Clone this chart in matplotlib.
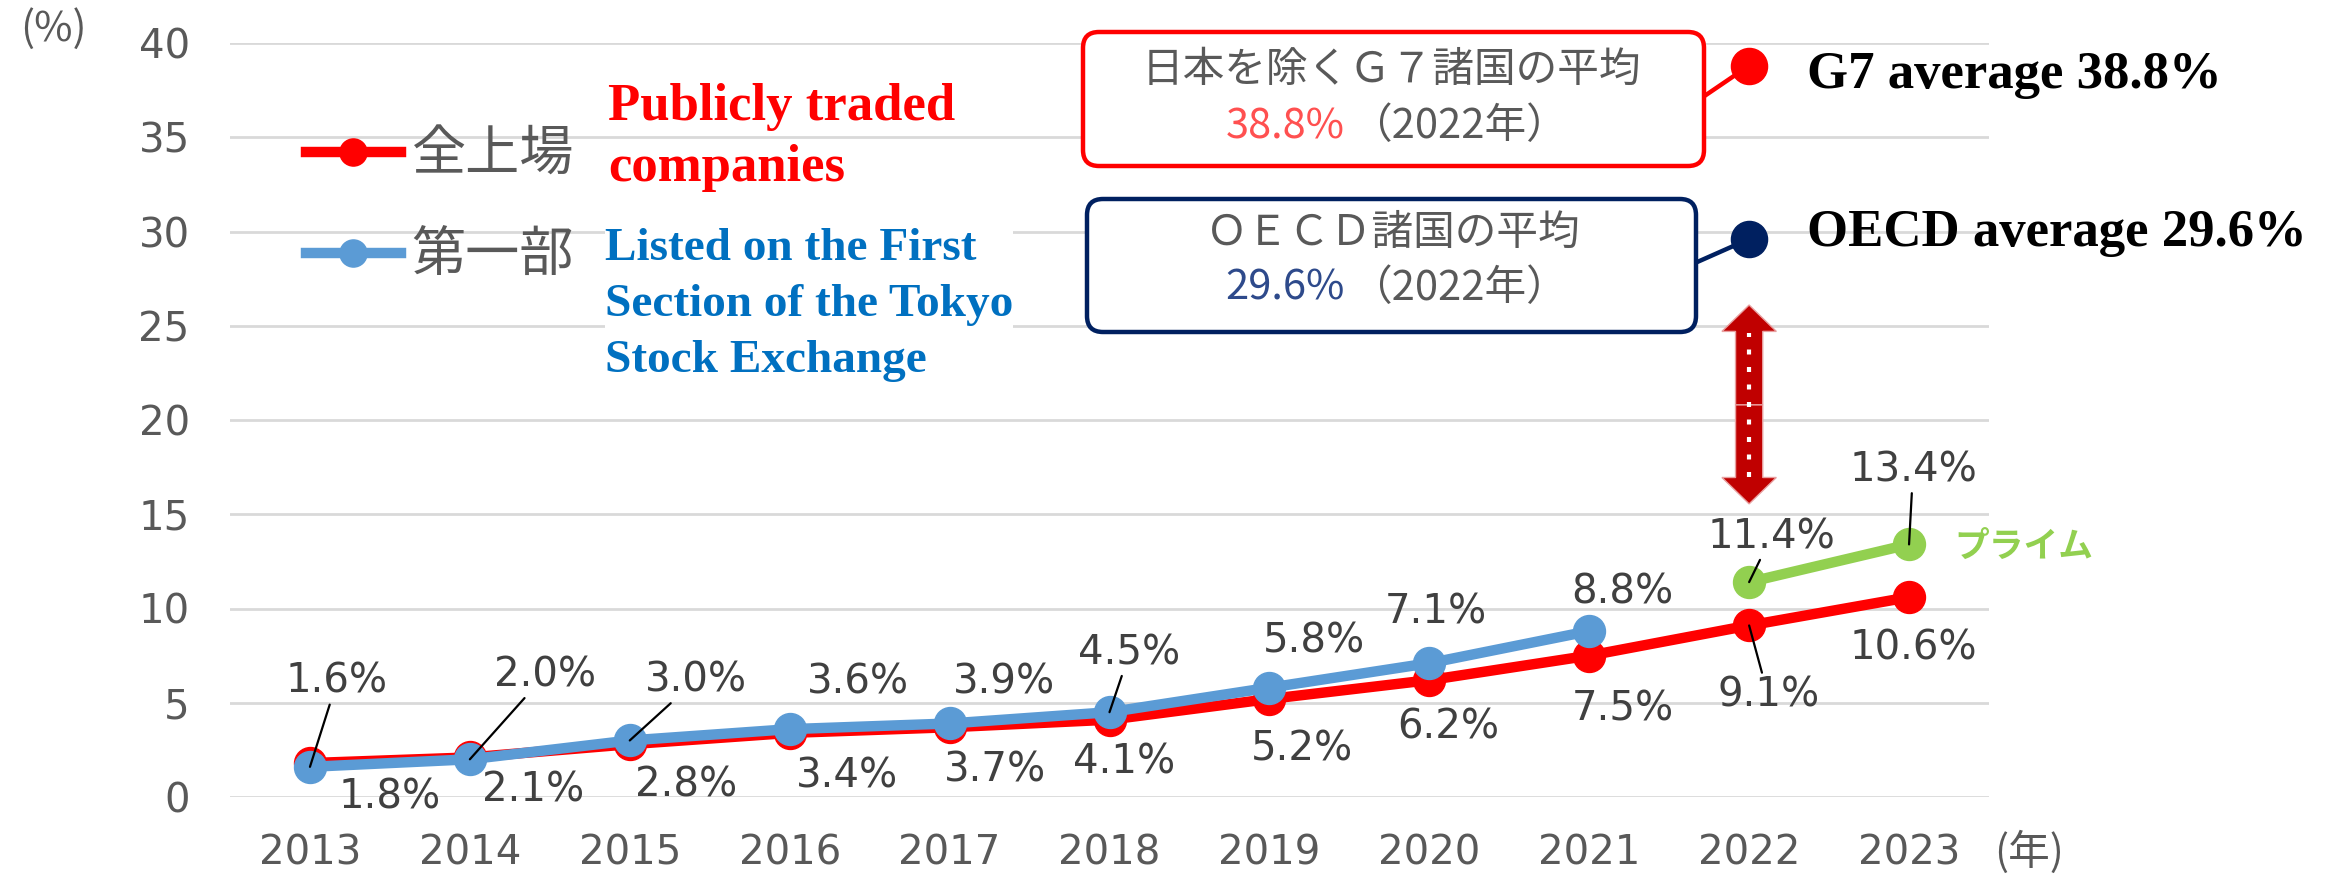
import matplotlib
matplotlib.use('Agg')
import matplotlib.pyplot as plt
from matplotlib.patches import FancyBboxPatch, FancyArrow
from matplotlib.transforms import IdentityTransform

plt.rcParams['font.family'] = ['DejaVu Sans', 'Noto Sans CJK JP']

# data (percent of female board members)
years = [2013, 2014, 2015, 2016, 2017, 2018, 2019, 2020, 2021, 2022, 2023]
all_listed = [1.8, 2.1, 2.8, 3.4, 3.7, 4.1, 5.2, 6.2, 7.5, 9.1, 10.6]
first_section_years = [2013, 2014, 2015, 2016, 2017, 2018, 2019, 2020, 2021]
first_section = [1.6, 2.0, 3.0, 3.6, 3.9, 4.5, 5.8, 7.1, 8.8]
prime_years = [2022, 2023]
prime = [11.4, 13.4]
benchmark_year = 2022
g7_avg = 38.8
oecd_avg = 29.6
y_ticks = [0, 5, 10, 15, 20, 25, 30, 35, 40]

# label offsets in pixels (dx, dy, leader line)
first_offsets = [(27, 85, True), (75, 84, True), (66, 60, True), (68, 47, False),
                 (54, 41, False), (20, 59, True), (45, 46, False), (7, 51, False),
                 (33, 39, False)]
all_offsets = [(80, -34, False), (63, -33, False), (56, -41, False), (57, -44, False),
               (45, -43, False), (15, -43, False), (33, -51, False), (19, -47, False),
               (34, -54, False), (19, -70, True), (4, -51, False)]
prime_offsets = [(22, 45, True), (4, 74, True)]

RED = '#FF0000'
BLUE = '#5B9BD5'
GREEN = '#92D050'
NAVY = '#002060'
GRAY = '#595959'
LABEL = '#404040'
JP = ['Noto Sans CJK JP', 'DejaVu Sans']
SERIF = ['Liberation Serif', 'DejaVu Serif']

W, H = 2339, 874
fig = plt.figure(figsize=(W / 100, H / 100), dpi=100)
ax = fig.add_axes([230 / W, 1 - 797 / H, (1989 - 230) / W, (797 - 43) / H])


def fx(x):
    return x / W


def fy(y):
    return 1 - y / H


red_line, = ax.plot(years, all_listed, color=RED, lw=7.5, marker='o', ms=23,
                    zorder=3, label='全上場')
blue_line, = ax.plot(first_section_years, first_section, color=BLUE, lw=7.5,
                     marker='o', ms=23, zorder=4, label='第一部')
ax.plot(prime_years, prime, color=GREEN, lw=7.5, marker='o', ms=23, zorder=4)

ax.plot([benchmark_year], [g7_avg], 'o', color=RED, ms=26, zorder=5, clip_on=False)
ax.plot([benchmark_year], [oecd_avg], 'o', color=NAVY, ms=26, zorder=5, clip_on=False)


def put_labels(xs, ys, offsets):
    for x, y, (dx, dy, leader) in zip(xs, ys, offsets):
        props = None
        if leader:
            props = dict(arrowstyle='-', color='black', lw=1.6, shrinkA=0, shrinkB=0)
        ax.annotate(f'{y:.1f}%', xy=(x, y), xytext=(dx, dy), textcoords='offset pixels',
                    ha='center', va='center', fontsize=29, color=LABEL,
                    arrowprops=props, zorder=6)


put_labels(first_section_years, first_section, first_offsets)
put_labels(years, all_listed, all_offsets)
put_labels(prime_years, prime, prime_offsets)

ax.annotate('プライム', xy=(prime_years[-1], prime[-1]), xytext=(115, -2),
            textcoords='offset pixels', ha='center', va='center', fontsize=25,
            fontweight='bold', color=GREEN, family=JP)

# double arrow between Japan and the international averages
mid = 20.8
for end in (26.1, 15.55):
    ax.add_patch(FancyArrow(benchmark_year, mid, 0, end - mid, width=0.17,
                            head_width=0.34, head_length=1.4,
                            length_includes_head=True, facecolor='#C00000',
                            edgecolor='#E8A0A0', lw=1, zorder=5))
ax.plot([benchmark_year, benchmark_year], [17.0, 24.6], color='white', lw=3,
        ls=(0, (1.2, 3)), zorder=6)

# axes styling
ax.set_xlim(2012.5, 2023.5)
ax.set_ylim(0, 40)
ax.set_yticks(y_ticks)
ax.set_xticks(years)
ax.tick_params(length=0, labelsize=29, labelcolor=GRAY)
ax.tick_params(axis='y', pad=29)
ax.tick_params(axis='x', pad=26)
ax.yaxis.grid(True, color='#D9D9D9', lw=2)
ax.set_axisbelow(True)
for s in ax.spines.values():
    s.set_visible(False)

fig.text(fx(53), fy(29), '(%)', fontsize=30, color=GRAY, family=JP,
         ha='center', va='center')
fig.text(fx(2029), fy(852), '(年)', fontsize=30, color=GRAY, family=JP,
         ha='center', va='center')

leg = ax.legend(handles=[red_line, blue_line], loc='upper left',
                bbox_to_anchor=(fx(306), fy(128)), bbox_transform=fig.transFigure,
                frameon=False, borderpad=0, borderaxespad=0, handlelength=1.75,
                handletextpad=0.2, labelspacing=0.85, markerscale=0.85,
                prop=dict(family=JP, size=39))
for t in leg.get_texts():
    t.set_color(GRAY)

# boxes with the international averages
ident = IdentityTransform()
for (x0, y0, x1, y1), col in [((1083, 32, 1704, 166), RED), ((1087, 199, 1696, 332), NAVY)]:
    fig.add_artist(FancyBboxPatch((x0, H - y1), x1 - x0, y1 - y0,
                                  boxstyle='round,pad=0,rounding_size=16',
                                  transform=ident, facecolor='white', edgecolor=col,
                                  lw=3.2, zorder=2))

fig.text(fx(1391), fy(70), '日本を除くＧ７諸国の平均', fontsize=30, color=GRAY,
         family=JP, ha='center', va='center')
fig.text(fx(1345), fy(127), f'{g7_avg}%', fontsize=30, color='#FF5050',
         family=JP, ha='right', va='center')
fig.text(fx(1350), fy(127), '（2022年）', fontsize=30, color=GRAY,
         family=JP, ha='left', va='center')
fig.text(fx(1393), fy(233), 'ＯＥＣＤ諸国の平均', fontsize=30, color=GRAY,
         family=JP, ha='center', va='center')
fig.text(fx(1345), fy(288), f'{oecd_avg}%', fontsize=30, color='#2E4A8B',
         family=JP, ha='right', va='center')
fig.text(fx(1350), fy(288), '（2022年）', fontsize=30, color=GRAY,
         family=JP, ha='left', va='center')

# connectors from the boxes to the markers
for (bx, by), val, col in [((1703, 97), g7_avg, RED), ((1695, 263), oecd_avg, NAVY)]:
    ax.annotate('', xy=(benchmark_year, val), xytext=(bx, H - by),
                textcoords='figure pixels',
                arrowprops=dict(arrowstyle='-', color=col, lw=3.2, shrinkA=0, shrinkB=0))

# English notes
fig.text(fx(1807), fy(75), f'G7 average {g7_avg}%', fontsize=38, fontweight='bold',
         family=SERIF, color='black', ha='left', va='center')
fig.text(fx(1807), fy(233), f'OECD average {oecd_avg}%', fontsize=38, fontweight='bold',
         family=SERIF, color='black', ha='left', va='center')
# multi-line text with va='baseline' sits on the last line's baseline
fig.text(fx(608), fy(181), 'Publicly traded\ncompanies', fontsize=38, fontweight='bold',
         family=SERIF, color=RED, ha='left', va='baseline', linespacing=1.35)
fig.text(fx(605), fy(372), 'Listed on the First\nSection of the Tokyo\nStock Exchange',
         fontsize=34, fontweight='bold', family=SERIF, color='#0070C0', ha='left',
         va='baseline', linespacing=1.44,
         bbox=dict(facecolor='white', edgecolor='none', pad=0))

fig.savefig('out.png', dpi=100)
